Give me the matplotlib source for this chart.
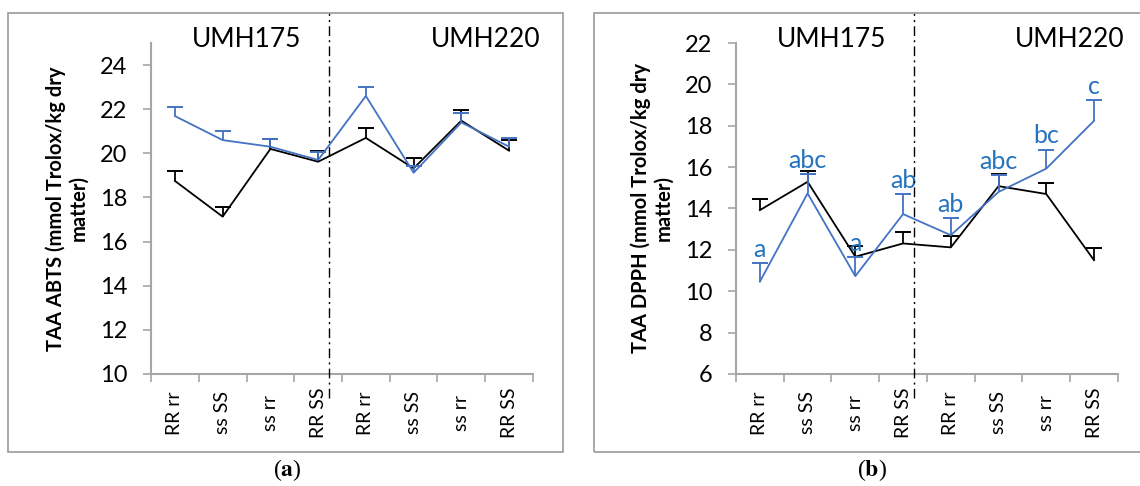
import matplotlib
matplotlib.use("Agg")
import matplotlib.pyplot as plt
from matplotlib.patches import Rectangle
import numpy as np

plt.rcParams['font.family'] = ['Lato', 'DejaVu Sans']
plt.rcParams['mathtext.fontset'] = 'stix'

# categories (genotypes) for both cultivars
cats = ['RR rr', 'ss SS', 'ss rr', 'RR SS', 'RR rr', 'ss SS', 'ss rr', 'RR SS']

# (a) TAA ABTS
abts_black = [18.75, 17.13, 20.2, 19.62, 20.7, 19.32, 21.48, 20.12]
abts_black_err = [0.46, 0.45, 0.47, 0.47, 0.47, 0.45, 0.48, 0.48]
abts_blue = [21.69, 20.6, 20.3, 19.7, 22.6, 19.12, 21.4, 20.3]
abts_blue_err = [0.41, 0.41, 0.37, 0.38, 0.39, 0.3, 0.41, 0.4]

# (b) TAA DPPH
dpph_black = [13.92, 15.29, 11.67, 12.31, 12.12, 15.08, 14.7, 11.5]
dpph_black_err = [0.53, 0.53, 0.53, 0.57, 0.55, 0.58, 0.54, 0.57]
dpph_blue = [10.46, 14.73, 10.73, 13.73, 12.71, 14.8, 15.93, 18.24]
dpph_blue_err = [0.92, 0.93, 0.91, 0.95, 0.84, 0.8, 0.92, 1.0]
dpph_letters = ['a', 'abc', 'a', 'ab', 'ab', 'abc', 'bc', 'c']

BLUE = '#4472C4'
LETTER = '#2373C0'
GRAY = '#a6a6a6'

fig = plt.figure(figsize=(11.4, 4.86), dpi=100)

# outer frames
fig.patches.append(Rectangle((8 / 1140, 1 - 452 / 486), 555 / 1140, 439 / 486,
                             transform=fig.transFigure, fill=False, ec='#9a9a9a', lw=1.2))
fig.patches.append(Rectangle((594 / 1140, 1 - 452 / 486), 560 / 1140, 439 / 486,
                             transform=fig.transFigure, fill=False, ec='#9a9a9a', lw=1.2,
                             clip_on=False))

ax1 = fig.add_axes([0.1325, 0.2305, 0.335, 0.681])
ax2 = fig.add_axes([0.6456, 0.2305, 0.335, 0.681])

x = np.arange(len(cats))


def draw_series(ax, vals, errs, color):
    ax.plot(x, vals, color=color, lw=1.3, zorder=3)
    eb = ax.errorbar(x, vals, yerr=[np.zeros(len(vals)), errs], fmt='none',
                     ecolor=color, elinewidth=1.3, capsize=5.5, capthick=1.4, zorder=3)
    # keep only the upper cap
    eb[1][0].set_visible(False)


def style_axes(ax, ylim, yticks, ylabel):
    ax.set_xlim(-0.5, 7.5)
    ax.set_ylim(*ylim)
    ax.set_yticks(yticks)
    ax.set_xticks(np.arange(-0.5, 8, 1))
    ax.set_xticklabels([])
    ax.set_xticks(x, cats, minor=True)
    for lab in ax.get_xticklabels(minor=True):
        lab.set_rotation(90)
        lab.set_va('center')
        lab.set_fontsize(14)
    ax.tick_params(axis='x', which='major', length=6, color=GRAY, width=1.2, direction='out')
    ax.tick_params(axis='x', which='minor', length=0, pad=28)
    ax.tick_params(axis='y', length=6, color=GRAY, width=1.2, pad=11, labelsize=17)
    for s in ['top', 'right']:
        ax.spines[s].set_visible(False)
    for s in ['left', 'bottom']:
        ax.spines[s].set_color(GRAY)
        ax.spines[s].set_linewidth(1.5)
    ax.text(-0.22, 0.5, ylabel, transform=ax.transAxes, rotation=90, ha='center',
            va='center', multialignment='center', fontsize=14.5, fontweight='bold',
            linespacing=1.15)
    # cultivar divider
    ax.plot([3.22, 3.22], [-0.073, 1.09], transform=ax.get_xaxis_transform(),
            color='black', lw=1.0, ls=(0, (7, 3, 1.5, 3)), clip_on=False, zorder=4)
    ax.text(1.5, 1.012, 'UMH175', transform=ax.get_xaxis_transform(), ha='center',
            va='center', fontsize=19)
    ax.text(6.5, 1.012, 'UMH220', transform=ax.get_xaxis_transform(), ha='center',
            va='center', fontsize=19)


draw_series(ax1, abts_black, abts_black_err, 'black')
draw_series(ax1, abts_blue, abts_blue_err, BLUE)
style_axes(ax1, (10, 25), range(10, 25, 2), 'TAA ABTS (mmol Trolox/kg dry\nmatter)')

draw_series(ax2, dpph_black, dpph_black_err, 'black')
draw_series(ax2, dpph_blue, dpph_blue_err, BLUE)
style_axes(ax2, (6, 22), range(6, 23, 2), 'TAA DPPH (mmol Trolox/kg dry\nmatter)')

for i, (v, e, t) in enumerate(zip(dpph_blue, dpph_blue_err, dpph_letters)):
    ax2.annotate(t, (i, v + e), xytext=(0, 1.5), textcoords='offset points',
                 ha='center', va='bottom', color=LETTER, fontsize=18)

fig.text(287 / 1140, 1 - 470 / 486, r'($\mathbf{a}$)', ha='center', va='center',
         fontsize=17, family='Liberation Serif')
fig.text(872 / 1140, 1 - 470 / 486, r'($\mathbf{b}$)', ha='center', va='center',
         fontsize=17, family='Liberation Serif')

fig.savefig('out.png', dpi=100)
